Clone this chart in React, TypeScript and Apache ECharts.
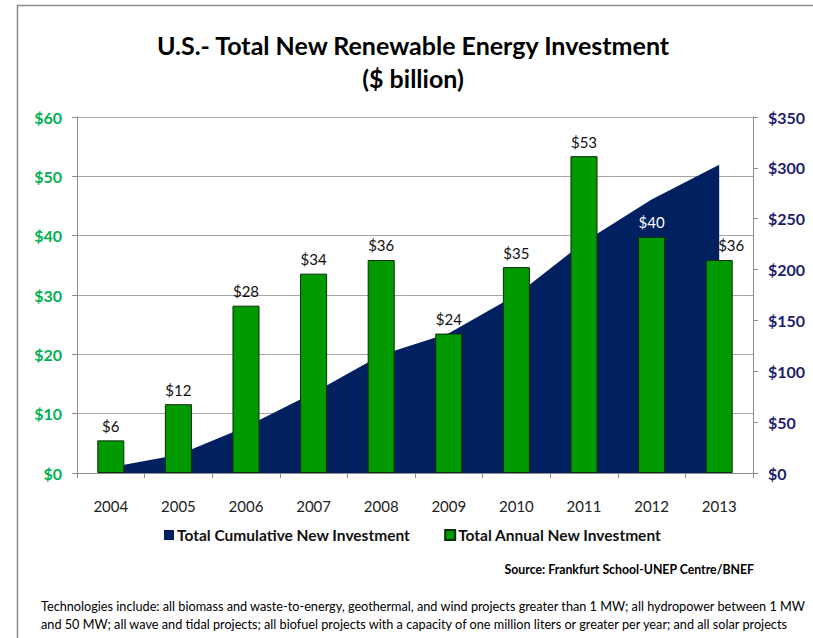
import React, { useEffect, useRef } from "react";
import * as echarts from "echarts";

const years = ["2004", "2005", "2006", "2007", "2008", "2009", "2010", "2011", "2012", "2013"];
const annualInvestment = [5.5, 11.6, 28.2, 33.6, 35.9, 23.5, 34.7, 53.4, 39.8, 35.9];
const cumulativeInvestment = [5.6, 18, 45.5, 79, 116, 137.5, 175, 227, 269, 303];
const leftAxisMax = 60;
const leftAxisStep = 10;
const rightAxisMax = 350;
const rightAxisStep = 50;
const whiteLabelYear = "2012";
const shiftedLabelYear = "2013";

const titleLine1 = "U.S.- Total New Renewable Energy Investment";
const titleLine2 = "($ billion)";
const cumulativeName = "Total Cumulative New Investment";
const annualName = "Total Annual New Investment";
const sourceText = "Source: Frankfurt School-UNEP Centre/BNEF";
const footnote1 =
  "Technologies include: all biomass and waste-to-energy, geothermal, and wind projects greater than 1 MW; all hydropower between 1 MW";
const footnote2 =
  "and 50 MW; all wave and tidal projects; all biofuel projects with a capacity of one million liters or greater per year; and all solar projects";

const FONT = "Lato, 'Open Sans', sans-serif";

export default function App() {
  const ref = useRef<HTMLDivElement>(null);

  useEffect(() => {
    if (!ref.current) return;
    const chart = echarts.init(ref.current, undefined, { renderer: "svg" });

    const barData = annualInvestment.map((v, i) => {
      const item: any = { value: v };
      if (years[i] === whiteLabelYear) item.label = { color: "#ffffff" };
      if (years[i] === shiftedLabelYear) item.label = { offset: [12, 0] };
      return item;
    });

    chart.setOption({
      animation: false,
      backgroundColor: "#ffffff",
      textStyle: { fontFamily: FONT },
      grid: { left: 77, right: 60, top: 117, bottom: 165, containLabel: false },
      legend: {
        left: 159,
        top: 522,
        itemWidth: 10,
        itemHeight: 10,
        itemGap: 34,
        textStyle: { fontFamily: FONT, fontSize: 15.5, fontWeight: "bold", color: "#111", padding: [0, 0, 0, -2] },
        data: [
          { name: cumulativeName, icon: "rect" },
          { name: annualName, icon: "rect" },
        ],
      },
      xAxis: {
        type: "category",
        data: years,
        axisLine: { lineStyle: { color: "#8c8c8c", width: 1 } },
        axisTick: { show: true, length: 5, lineStyle: { color: "#8c8c8c" } },
        axisLabel: { color: "#222", fontSize: 15, margin: 25, fontFamily: FONT },
        splitLine: { show: false },
      },
      yAxis: [
        {
          type: "value",
          min: 0,
          max: leftAxisMax,
          interval: leftAxisStep,
          position: "left",
          axisLine: { show: true, lineStyle: { color: "#8c8c8c" } },
          axisTick: { show: true, length: 5, lineStyle: { color: "#8c8c8c" } },
          axisLabel: {
            formatter: (v: number) => "$" + v,
            color: "#00B050",
            fontWeight: "bold",
            fontSize: 16,
            margin: 15,
            fontFamily: FONT,
          },
          splitLine: { show: true, lineStyle: { color: "#a6a6a6", width: 1 } },
        },
        {
          type: "value",
          min: 0,
          max: rightAxisMax,
          interval: rightAxisStep,
          position: "right",
          axisLine: { show: true, lineStyle: { color: "#8c8c8c" } },
          axisTick: { show: true, length: 5, lineStyle: { color: "#8c8c8c" } },
          axisLabel: {
            formatter: (v: number) => "$" + v,
            color: "#1c1c6e",
            fontWeight: "bold",
            fontSize: 16,
            margin: 15,
            fontFamily: FONT,
          },
          splitLine: { show: false },
        },
      ],
      series: [
        {
          name: cumulativeName,
          type: "line",
          yAxisIndex: 1,
          data: cumulativeInvestment,
          symbol: "none",
          lineStyle: { width: 0, color: "#002060" },
          itemStyle: { color: "#002060" },
          areaStyle: { color: "#002060", opacity: 1 },
          z: 1,
        },
        {
          name: annualName,
          type: "bar",
          yAxisIndex: 0,
          data: barData,
          barWidth: "40%",
          itemStyle: { color: "#009900", borderColor: "#0d2b0d", borderWidth: 1 },
          label: {
            show: true,
            position: "top",
            distance: 7,
            formatter: (p: any) => "$" + Math.round(p.value),
            color: "#111",
            fontSize: 15,
            fontFamily: FONT,
          },
          z: 3,
        },
      ],
      graphic: [
        {
          type: "rect",
          shape: { x: 17.5, y: 5.5, width: 1000, height: 1000 },
          style: { fill: "none", stroke: "#8c8c8c", lineWidth: 1.5 },
          silent: true,
        },
        {
          type: "text",
          x: 413,
          y: 45,
          style: {
            text: titleLine1,
            fill: "#000",
            font: `bold 25px ${FONT}`,
            textAlign: "center",
            textVerticalAlign: "middle",
          },
        },
        {
          type: "text",
          x: 413,
          y: 78,
          style: {
            text: titleLine2,
            fill: "#000",
            font: `bold 25px ${FONT}`,
            textAlign: "center",
            textVerticalAlign: "middle",
          },
        },
        {
          type: "text",
          x: 754,
          y: 569,
          style: {
            text: sourceText,
            fill: "#000",
            font: `bold 12.3px ${FONT}`,
            textAlign: "right",
            textVerticalAlign: "middle",
          },
        },
        {
          type: "text",
          x: 41,
          y: 606,
          style: {
            text: footnote1,
            fill: "#000",
            font: `12.7px ${FONT}`,
            textAlign: "left",
            textVerticalAlign: "middle",
          },
        },
        {
          type: "text",
          x: 41,
          y: 624,
          style: {
            text: footnote2,
            fill: "#000",
            font: `12.7px ${FONT}`,
            textAlign: "left",
            textVerticalAlign: "middle",
          },
        },
      ],
    });

    return () => chart.dispose();
  }, []);

  return (
    <div
      ref={ref}
      style={{ position: "absolute", left: 0, top: 0, width: 813, height: 638, background: "#fff" }}
    />
  );
}
